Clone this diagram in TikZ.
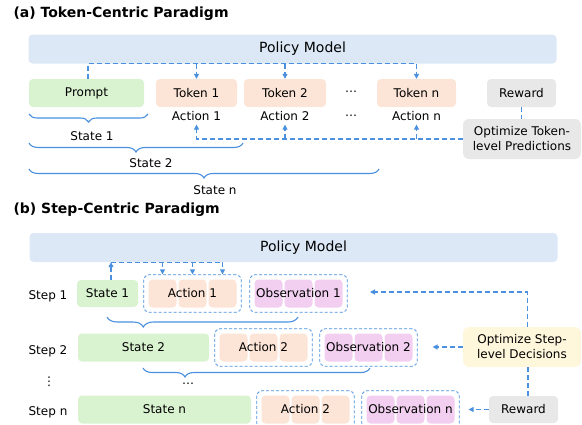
\documentclass[tikz,border=0pt]{standalone}
\usepackage{fontspec}
\setmainfont{DejaVu Sans}
\usetikzlibrary{positioning,arrows.meta,decorations.pathreplacing,fit,calc}
\definecolor{policyBlue}{RGB}{220,232,246}
\definecolor{stateGreen}{RGB}{217,242,208}
\definecolor{actionPeach}{RGB}{252,228,214}
\definecolor{obsPink}{RGB}{242,207,240}
\definecolor{rewardGray}{RGB}{232,232,232}
\definecolor{optYellow}{RGB}{255,247,220}
\definecolor{linkBlue}{RGB}{74,144,222}

\begin{document}
\begin{tikzpicture}[
    x=1pt, y=-1pt,
    font=\fontsize{12}{15}\selectfont,
    blk/.style={rectangle, rounded corners=4pt, inner sep=0pt, minimum height=28pt},
    bar/.style={blk, fill=policyBlue, minimum width=528pt, minimum height=29pt, font=\fontsize{14}{16}\selectfont},
    cell/.style={blk, minimum width=28pt},
    optbox/.style={blk, rounded corners=6pt, minimum width=118pt, minimum height=40pt, align=center},
    lbl/.style={inner sep=2pt, text height=9pt, text depth=2pt},
    steplbl/.style={inner sep=1pt},
    group/.style={draw=linkBlue, dash pattern=on 3pt off 2pt, line width=0.8pt, rounded corners=5pt, inner sep=4.5pt},
    link/.style={draw=linkBlue, dash pattern=on 5pt off 3pt, line width=1.2pt},
    flow/.style={link, -{Triangle[length=5pt, width=5pt]}},
    brc/.style={draw=linkBlue, line width=1.1pt, decorate, decoration={brace, mirror, amplitude=8pt}},
    title/.style={anchor=west, font=\fontsize{14}{16}\selectfont\bfseries}
]
\useasboundingbox (0,0) rectangle (582,424);

% ---------------- (a) token level ----------------
\node[title] (titleA) at (10,14) {(a) Token-Centric Paradigm};
\node[bar] (policyA) at (292.5,49) {\hspace*{20pt}Policy Model};

\node[blk, fill=stateGreen, minimum width=115pt] (prompt) at (86.5,93) {Prompt};
\node[blk, fill=actionPeach, minimum width=81pt] (tok1) at (196.5,93) {Token 1};
\node[blk, fill=actionPeach, minimum width=82pt] (tok2) at (285,93) {Token 2};
\node (dotsA) at (351,93) {⋯};
\node[blk, fill=actionPeach, minimum width=79pt] (tokn) at (416.5,93) {Token n};
\node[blk, fill=rewardGray, minimum width=69pt] (rewardA) at (521.5,93) {Reward};

\node[lbl, below=2pt of tok1] (actA1) {Action 1};
\node[lbl, below=2pt of tok2] (actA2) {Action 2};
\node[lbl] (dotsA2) at (351,116) {⋯};
\node[lbl, below=2pt of tokn] (actAn) {Action n};

\node[optbox, fill=rewardGray] (optA) at (522,139) {Optimize Token-\\level Predictions};

% policy to tokens
\coordinate (busA) at ([xshift=1.5pt]prompt.north |- policyA.south);
\draw[link] ([xshift=1.5pt]prompt.north) -- (busA) -- (busA -| tokn.north);
\foreach \t in {tok1,tok2,tokn}
    \draw[flow] (busA -| \t.north) -- (\t.north);

% reward feedback
\draw[link] (rewardA.south) -- (rewardA.south |- optA.north);
\draw[flow] (optA.west) -| (actA1.south);
\draw[flow] (actA2.south |- optA.west) -- (actA2.south);
\draw[flow] (actAn.south |- optA.west) -- (actAn.south);

% states
\draw[brc] (29,114) -- (148,114);
\node (stA1) at (92,136) {State 1};
\draw[brc, decoration={amplitude=9pt}] (29,143) -- (243,143);
\node (stA2) at (151,163) {State 2};
\draw[brc, decoration={amplitude=9pt}] (29,169) -- (379,169);
\node (stAn) at (215,190) {State n};

% ---------------- (b) step level ----------------
\node[title] (titleB) at (10,210) {(b) Step-Centric Paradigm};
\node[bar] (policyB) at (293.5,247.5) {\hspace*{20pt}Policy Model};

\node[steplbl] (step1) at (48,296) {Step 1};
\node[steplbl] (step2) at (48,351) {Step 2};
\node[inner sep=0pt] (stepdots) at (49,382) {⋮};
\node[steplbl] (stepn) at (48,412) {Step n};

\node[blk, fill=stateGreen, minimum width=61pt, minimum height=27pt] (state1) at (107.5,293.5) {State 1};
\node[blk, fill=stateGreen, minimum width=131pt] (state2) at (143.5,347.5) {State 2};
\node[blk, fill=stateGreen, minimum width=173pt] (staten) at (164.5,409.5) {State n};

% action / observation chunks
\foreach \grp/\fillc/\x/\y/\txt in {
    act1/actionPeach/162.5/293.5/Action 1,
    obs1/obsPink/268.5/293.5/Observation 1,
    act2/actionPeach/233.5/347.5/Action 2,
    obs2/obsPink/338.5/347.5/Observation 2,
    actn/actionPeach/275.5/409.5/Action 2,
    obsn/obsPink/380.5/409.5/Observation n} {
  \foreach \k in {1,2,3}
    \node[cell, fill=\fillc] (\grp-\k) at ({\x+30*(\k-1)}, \y) {};
  \node (\grp-txt) at (\grp-2) {\txt};
  \node[group, fit=(\grp-1)(\grp-3)] (\grp) {};
}

\node[blk, fill=rewardGray, minimum width=69pt, minimum height=27pt] (rewardB) at (523.5,409.5) {Reward};
\node[optbox, fill=optYellow] (optB) at (522,347) {Optimize Step-\\level Decisions};

% policy to first step
\coordinate (busB) at ([xshift=3.5pt]state1.north |- policyB.south);
\draw[flow] ([xshift=3.5pt]state1.north) -- (busB);
\draw[link] (busB) -- (busB -| act1-3);
\foreach \k in {1,2,3}
    \draw[flow] (busB -| act1-\k) -- (act1-\k |- act1.north);

% step rewards
\coordinate (fbObs1) at (370,292);
\draw[link] ([xshift=4.5pt]rewardB.north) -- ([xshift=4.5pt]rewardB.north |- optB.south);
\draw[flow] ([xshift=5.5pt]optB.north) |- (fbObs1);
\draw[flow, shorten >=15pt] (optB.west) -- (optB.west -| obs2.east);
\draw[flow, shorten >=9pt] (rewardB.west) -- (rewardB.west -| obsn.east);

% next states
\draw[brc, decoration={amplitude=10pt, aspect=0.19}] (107,317) -- (298,317);
\draw[brc, decoration={amplitude=9pt, aspect=0.185}] (143,368) -- (370,368);
\node (dotsB) at (188,385) {⋯};

\end{tikzpicture}
\end{document}
